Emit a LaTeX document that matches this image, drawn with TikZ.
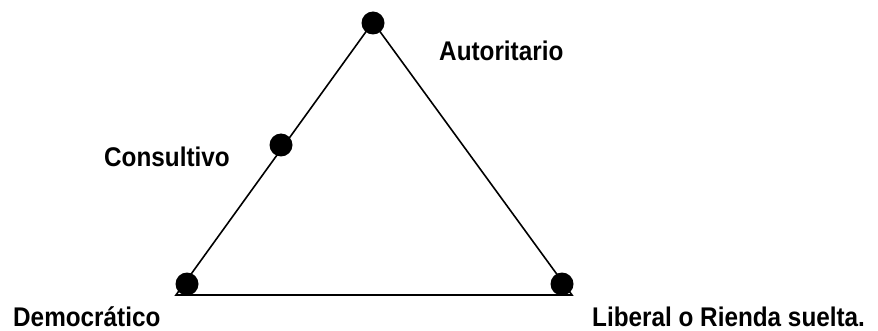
\documentclass[tikz,border=0pt]{standalone}
\usepackage{fontspec}
\setmainfont{Liberation Sans}[FakeStretch=0.9]
\usepackage{tikz}
\usetikzlibrary{positioning, calc}

\begin{document}
\begin{tikzpicture}[
    x=1pt, y=-1pt,
    dot/.style={circle, fill=black, inner sep=0pt, minimum size=23pt},
    side/.style={line width=1.6pt},
    lbl/.style={inner sep=0pt, anchor=base west, font=\fontsize{27}{30}\selectfont\bfseries}
]
\useasboundingbox (0,0) rectangle (878,331);

% vertices of the triangle
\coordinate (top) at (373,22);
\coordinate (left) at (176,295);
\coordinate (right) at (572,295);

\draw[side] (left) -- (top) -- (right) -- cycle;

\node[dot] (autoritario) at (373,23) {};
\node[dot] (consultivo) at (281,145) {};
\node[dot] (democratico) at (187,284) {};
\node[dot] (liberal) at (562,284) {};

\node[lbl] (lautoritario) at (439,61) {Autoritario};
\node[lbl] (lconsultivo) at (104,167) {Consultivo};
\node[lbl] (ldemocratico) at (13,326) {Democrático};
\node[lbl] (lliberal) at (592,326) {Liberal o Rienda suelta.};
\end{tikzpicture}
\end{document}
